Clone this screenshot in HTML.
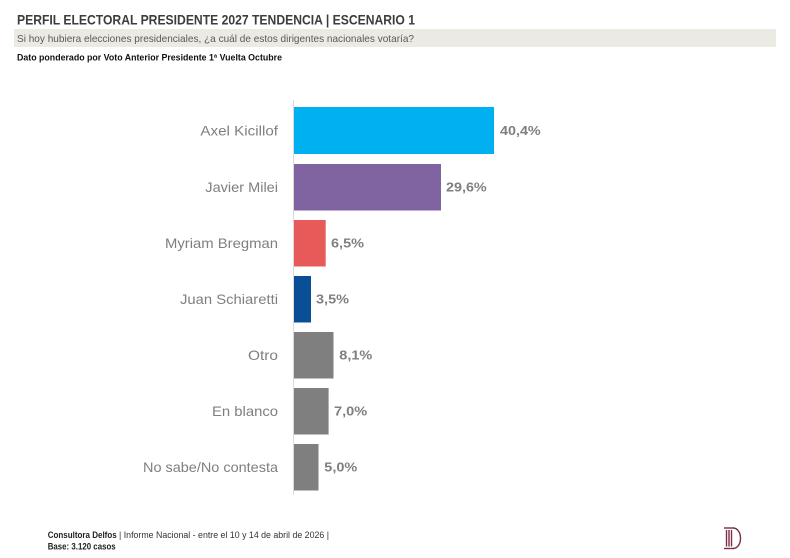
<!DOCTYPE html>
<html>
<head>
<meta charset="utf-8">
<style>
  html, body { margin:0; padding:0; background:#ffffff; }
  body { width:790px; height:558px; overflow:hidden; }
  svg { display:block; }
</style>
</head>
<body>
<svg width="790" height="558" viewBox="0 0 790 558" xmlns="http://www.w3.org/2000/svg">
  <rect x="0" y="0" width="790" height="558" fill="#ffffff"/>

  <!-- Header -->
  <text x="17" y="24.3" font-family="Liberation Sans, sans-serif" font-size="14" font-weight="bold" fill="#3c3c3c" textLength="398" lengthAdjust="spacingAndGlyphs">PERFIL ELECTORAL PRESIDENTE 2027 TENDENCIA | ESCENARIO 1</text>
  <rect x="14" y="29" width="762" height="18" fill="#EBEBE3"/>
  <text x="17" y="41.8" font-family="Liberation Sans, sans-serif" font-size="10.5" fill="#595959" textLength="397" lengthAdjust="spacingAndGlyphs">Si hoy hubiera elecciones presidenciales, ¿a cuál de estos dirigentes nacionales votaría?</text>
  <text x="17" y="60.3" font-family="Liberation Sans, sans-serif" font-size="9" font-weight="bold" fill="#111111" textLength="265" lengthAdjust="spacingAndGlyphs">Dato ponderado por Voto Anterior Presidente 1ª Vuelta Octubre</text>

  <!-- Axis line -->
  <line x1="293.5" y1="100" x2="293.5" y2="495" stroke="#d9d9d9" stroke-width="1"/>

  <!-- Bars -->
  <rect x="294" y="107" width="200" height="47" fill="#00B0F0"/>
  <rect x="294" y="164" width="147" height="46.5" fill="#8064A2"/>
  <rect x="294" y="220" width="31.7" height="46.5" fill="#E85A5A"/>
  <rect x="294" y="276" width="17" height="46.5" fill="#0A4F96"/>
  <rect x="294" y="332" width="39.5" height="46.5" fill="#7F7F7F"/>
  <rect x="294" y="388" width="34.6" height="46.5" fill="#7F7F7F"/>
  <rect x="294" y="444" width="24.5" height="46.5" fill="#7F7F7F"/>

  <!-- Category labels -->
  <g font-family="Liberation Sans, sans-serif" font-size="14" fill="#7F7F7F" text-anchor="end">
    <text x="278" y="135.5" textLength="77.6" lengthAdjust="spacingAndGlyphs">Axel Kicillof</text>
    <text x="278" y="192" textLength="72.7" lengthAdjust="spacingAndGlyphs">Javier Milei</text>
    <text x="278" y="248" textLength="113" lengthAdjust="spacingAndGlyphs">Myriam Bregman</text>
    <text x="278" y="304" textLength="98" lengthAdjust="spacingAndGlyphs">Juan Schiaretti</text>
    <text x="278" y="360" textLength="30" lengthAdjust="spacingAndGlyphs">Otro</text>
    <text x="278" y="416" textLength="66" lengthAdjust="spacingAndGlyphs">En blanco</text>
    <text x="278" y="472" textLength="135" lengthAdjust="spacingAndGlyphs">No sabe/No contesta</text>
  </g>

  <!-- Value labels -->
  <g font-family="Liberation Sans, sans-serif" font-size="13" font-weight="bold" fill="#7F7F7F">
    <text x="500" y="135.2" textLength="40.7" lengthAdjust="spacingAndGlyphs">40,4%</text>
    <text x="446" y="191.7" textLength="40.7" lengthAdjust="spacingAndGlyphs">29,6%</text>
    <text x="331" y="247.7" textLength="33" lengthAdjust="spacingAndGlyphs">6,5%</text>
    <text x="316" y="303.7" textLength="33" lengthAdjust="spacingAndGlyphs">3,5%</text>
    <text x="339.3" y="359.7" textLength="33" lengthAdjust="spacingAndGlyphs">8,1%</text>
    <text x="334" y="415.7" textLength="33.3" lengthAdjust="spacingAndGlyphs">7,0%</text>
    <text x="324.3" y="471.7" textLength="33" lengthAdjust="spacingAndGlyphs">5,0%</text>
  </g>

  <!-- Footer -->
  <g font-family="Liberation Sans, sans-serif" font-size="9" fill="#222222">
    <text x="47.7" y="538" font-weight="bold" textLength="69" lengthAdjust="spacingAndGlyphs">Consultora Delfos</text>
    <text x="119" y="538" fill="#333333" textLength="210" lengthAdjust="spacingAndGlyphs">| Informe Nacional - entre el 10 y 14 de abril de 2026 |</text>
    <text x="47.7" y="549.5" font-weight="bold" textLength="68" lengthAdjust="spacingAndGlyphs">Base: 3.120 casos</text>
  </g>

  <!-- Logo -->
  <g stroke="#7A2E48" fill="none" stroke-width="1.4">
    <line x1="724" y1="528" x2="734" y2="528"/>
    <line x1="724" y1="548.5" x2="734" y2="548.5"/>
    <line x1="726.5" y1="530" x2="726.5" y2="546.5"/>
    <line x1="729" y1="530" x2="729" y2="546.5"/>
    <line x1="731.5" y1="530" x2="731.5" y2="546.5"/>
    <path d="M733 528 C743 528 743 548.5 733 548.5"/>
  </g>
</svg>
</body>
</html>
